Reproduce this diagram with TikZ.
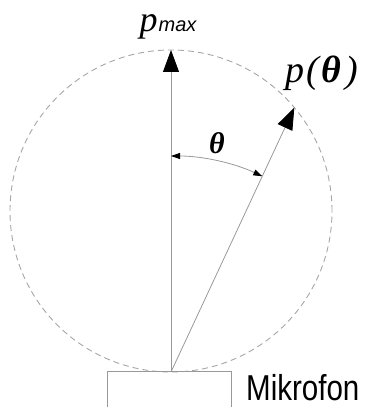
\documentclass[tikz,border=0pt]{standalone}
\usepackage{fontspec}
\setmainfont{Liberation Sans}
\newfontfamily\serifit{Liberation Serif Italic}
\newfontfamily\serifbi{Liberation Serif Bold Italic}
\newfontfamily\sansit{Liberation Sans Italic}
\usetikzlibrary{arrows.meta,calc}
\begin{document}
\begin{tikzpicture}[x=1pt,y=1pt,
  ray/.style={draw=black!40, line width=0.8pt},
  bigtip/.style={-{Triangle[length=22pt,width=16pt,fill=black,color=black]}},
  arcline/.style={draw=black!40, line width=0.8pt, {Triangle[length=9pt,width=6pt,color=black]}-{Triangle[length=9pt,width=6pt,color=black]}},
  dashcircle/.style={draw=black!35, line width=0.9pt, dash pattern=on 6pt off 4pt},
  micbox/.style={draw=black!40, line width=0.8pt},
  lab/.style={inner sep=0pt}]
\useasboundingbox (0,0) rectangle (370,407);
\begin{scope}
\clip (0,0) rectangle (370,407);
\coordinate (O) at (171,35);
\coordinate (C) at (171,196);
\draw[dashcircle] (C) circle[radius=161];
\draw[micbox] (107,-5) rectangle (231,36);
\coordinate (Pmax) at (171,357);
\coordinate (Pth) at ($(O)+(65:291.8)$);
\draw[ray,bigtip] (O) -- (Pmax);
\draw[ray,bigtip] (O) -- (Pth);
\coordinate (A1) at ($(O)+(90:216)$);
\draw[arcline] (A1) arc[start angle=90,end angle=65,radius=216];
\end{scope}
\node[lab] (lmax) at (168,380) {\serifit\fontsize{36}{36}\selectfont p\hspace{1pt}{\sansit\fontsize{20}{20}\selectfont max}};
\node[lab] (lth) at (322,334) {\serifit\fontsize{38}{38}\selectfont p\hspace{2pt}(\hspace{2pt}{\serifbi θ}\hspace{4pt})};
\node[lab] (theta) at (217,264) {\serifbi\fontsize{30}{30}\selectfont θ};
\node[lab, anchor=base west, xscale=0.82] (mic) at (246,6) {\fontsize{36}{36}\selectfont Mikrofon};
\end{tikzpicture}
\end{document}
